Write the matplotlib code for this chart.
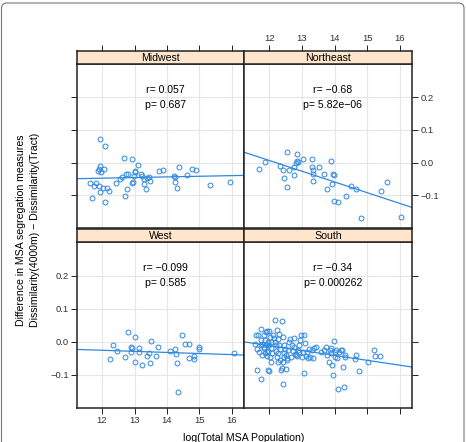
import matplotlib
matplotlib.use("Agg")
import matplotlib.pyplot as plt
from matplotlib.patches import FancyBboxPatch
import numpy as np

plt.rcParams["font.family"] = ["Liberation Sans", "DejaVu Sans"]

# ---------------- data ----------------
regions = ["Midwest", "Northeast", "West", "South"]

midwest_x = [11.93, 12.10, 12.68, 12.91, 13.11, 11.95, 11.90, 12.06, 11.98, 11.89,
             11.64, 11.74, 11.83, 11.91, 11.93, 12.03, 12.14, 12.22, 11.68, 12.09,
             12.71, 12.78, 12.44, 12.55, 12.60, 12.73, 12.80, 12.91, 12.96, 12.99,
             13.02, 13.02, 13.19, 13.22, 13.29, 13.29, 13.34, 13.39, 13.45, 13.47,
             13.76, 13.89, 14.22, 14.24, 14.26, 14.30, 14.38, 14.63, 14.76, 14.90,
             15.31, 15.93]
midwest_y = [0.073, 0.050, 0.015, 0.010, -0.006, -0.010, -0.020, -0.020, -0.030, -0.024,
             -0.061, -0.071, -0.061, -0.071, -0.089, -0.079, -0.077, -0.087, -0.107, -0.121,
             -0.101, -0.081, -0.061, -0.051, -0.044, -0.036, -0.036, -0.061, -0.059, -0.041,
             -0.030, -0.026, -0.036, -0.041, -0.051, -0.064, -0.081, -0.046, -0.043, -0.056,
             -0.026, -0.023, -0.041, -0.058, -0.044, -0.078, -0.014, -0.037, -0.020, -0.023,
             -0.068, -0.058]

northeast_x = [11.69, 11.88, 12.34, 12.43, 12.46, 12.54, 12.54, 12.62, 12.77, 12.77,
               12.82, 12.85, 12.87, 13.05, 13.30, 13.31, 13.33, 13.35, 13.35, 13.51,
               13.67, 13.77, 13.90, 13.93, 13.95, 13.97, 13.97, 14.12, 14.34, 14.51,
               14.66, 14.80, 15.42, 15.60, 16.03, 12.84]
northeast_y = [-0.020, 0.003, -0.010, -0.023, -0.046, 0.033, -0.076, -0.023, -0.038, -0.012,
               0.000, 0.025, 0.002, 0.010, 0.010, -0.013, -0.023, -0.057, -0.034, -0.012,
               -0.034, -0.082, 0.005, -0.066, -0.034, -0.037, -0.118, -0.121, -0.101, -0.071,
               -0.082, -0.169, -0.086, -0.058, -0.165, 0.005]

west_x = [12.24, 12.34, 12.46, 12.72, 12.80, 12.88, 12.89, 12.93, 13.01, 13.03,
          13.13, 13.14, 13.24, 13.39, 13.44, 13.47, 13.51, 13.65, 13.73, 14.09,
          14.25, 14.28, 14.32, 14.35, 14.46, 14.56, 14.68, 14.69, 14.83, 14.84,
          14.99, 15.00, 16.05]
west_y = [-0.053, -0.010, -0.028, -0.046, 0.030, -0.016, -0.032, -0.020, -0.060, 0.016,
          -0.020, -0.032, -0.070, -0.042, -0.035, -0.064, 0.002, -0.042, -0.017, -0.027,
          -0.021, -0.038, -0.064, -0.153, 0.020, -0.005, -0.005, -0.050, -0.043, -0.053,
          -0.017, -0.022, -0.033]

south_x = [11.56, 11.62, 11.64, 11.69, 11.74, 11.74, 11.76, 11.79, 11.83, 11.85,
           11.87, 11.90, 11.93, 11.93, 11.95, 11.97, 12.00, 12.00, 12.03, 12.05,
           12.07, 12.10, 12.15, 12.18, 12.21, 12.24, 12.26, 12.26, 12.28, 12.31,
           12.34, 12.36, 12.38, 12.40, 12.41, 12.42, 12.44, 12.46, 12.49, 12.51,
           12.54, 12.56, 12.59, 12.62, 12.65, 12.67, 12.69, 12.72, 12.75, 12.77,
           12.79, 12.82, 12.85, 12.87, 12.90, 12.92, 12.95, 12.97, 12.99, 13.03,
           13.06, 13.08, 13.10, 13.12, 13.15, 13.18, 13.23, 13.26, 13.30, 13.33,
           13.38, 13.44, 13.59, 13.69, 13.74, 13.77, 13.82, 13.85, 13.88, 13.90,
           13.93, 13.95, 13.98, 14.00, 14.02, 14.05, 14.08, 14.10, 14.15, 14.21,
           14.24, 14.26, 14.28, 14.31, 14.33, 14.62, 14.67, 14.74, 15.03, 15.21,
           15.23, 15.38,
           11.59, 11.66, 11.76, 11.79, 11.83, 11.87, 11.90, 11.93, 11.97, 12.00,
           12.03, 12.07, 12.13, 12.17, 12.21, 12.24, 12.31, 12.34, 12.41, 12.46,
           12.51]
south_y = [-0.005, -0.022, -0.086, -0.032, -0.111, -0.010, 0.040, -0.040, 0.020, -0.020,
           0.005, 0.030, 0.032, -0.030, -0.084, 0.000, 0.034, -0.088, 0.015, -0.020,
           0.000, -0.035, 0.012, 0.065, -0.010, 0.035, 0.010, -0.035, -0.060, 0.025,
           -0.022, -0.086, -0.079, 0.063, 0.015, -0.127, -0.010, -0.035, -0.022, -0.081,
           -0.050, -0.055, -0.025, 0.000, 0.010, -0.045, -0.010, -0.028, 0.013, -0.015,
           -0.038, -0.040, -0.042, -0.025, -0.030, -0.010, 0.005, 0.022, -0.045, -0.030,
           -0.093, 0.020, -0.002, -0.043, -0.030, -0.050, -0.023, -0.045, -0.025, -0.048,
           -0.020, -0.017, -0.032, -0.025, -0.015, -0.040, -0.060, -0.025, -0.035, -0.020,
           -0.070, -0.099, 0.002, -0.030, -0.045, -0.025, -0.048, -0.143, -0.030, -0.026,
           -0.025, -0.075, -0.138, -0.040, -0.045, -0.053, -0.040, -0.087, -0.062, -0.025,
           -0.042, -0.042,
           0.020, 0.022, 0.005, -0.005, -0.015, -0.035, -0.010, -0.042, -0.028, -0.010,
           -0.045, -0.060, 0.020, 0.000, -0.028, -0.045, -0.010, -0.055, -0.060, -0.045,
           -0.040]

# fitted line (value at x=14, slope)
line_at14 = [-0.0436, -0.059, -0.032, -0.041]
line_slope = [0.00195, -0.0329, -0.0033, -0.0148]
r_text = ["r= 0.057", "r= \u22120.68", "r= \u22120.099", "r= \u22120.34"]
p_text = ["p= 0.687", "p= 5.82e\u221206", "p= 0.585", "p= 0.000262"]

xticks = [12, 13, 14, 15, 16]
yticks = [-0.1, 0.0, 0.1, 0.2]
ytick_labels = ["\u22120.1", "0.0", "0.1", "0.2"]

xs = [midwest_x, northeast_x, west_x, south_x]
ys = [midwest_y, northeast_y, west_y, south_y]

# ---------------- layout ----------------
W, H = 466, 442
fig = plt.figure(figsize=(W / 100, H / 100), dpi=100)

XL = (11.23, 16.37)
YL = (-0.2, 0.302)
col_x = [(77, 244), (244, 412)]
row_y = [(51, 64, 228), (229, 242, 408)]  # strip top, strip bottom/plot top, plot bottom

blue = "#2f88e0"
tick_fs = 6.8
txt_fs = 7.6
border_lw = 1.1

def fx(px):
    return px / W

def fy(py):
    return 1 - py / H

# outer rounded frame
frame = FancyBboxPatch((fx(1.5), fy(452)), fx(462.5), fy(3) - fy(452),
                       boxstyle="round,pad=0,rounding_size=0.012",
                       transform=fig.transFigure, fill=False,
                       edgecolor="#777777", lw=0.8)
fig.patches.append(frame)

for i, reg in enumerate(regions):
    r, c = divmod(i, 2)
    x0, x1 = col_x[c]
    st, pt, pb = row_y[r]
    ax = fig.add_axes([fx(x0), fy(pb), fx(x1) - fx(x0), fy(pt) - fy(pb)])
    sax = fig.add_axes([fx(x0), fy(pt), fx(x1) - fx(x0), fy(st) - fy(pt)])

    ax.set_xlim(*XL)
    ax.set_ylim(*YL)
    for v in xticks:
        ax.axvline(v, color="#e6e6e6", lw=0.8, zorder=0)
    for v in yticks:
        ax.axhline(v, color="#e6e6e6", lw=0.8, zorder=0)

    ax.plot(xs[i], ys[i], linestyle="none", marker="o", ms=3.5,
            mfc="none", mec=blue, mew=0.7, zorder=3)
    lx = np.array(XL)
    ax.plot(lx, line_at14[i] + line_slope[i] * (lx - 14), color=blue, lw=0.9, zorder=2)

    ax.text(13.95, 0.222, r_text[i], ha="center", va="center", fontsize=txt_fs)
    ax.text(13.95, 0.178, p_text[i], ha="center", va="center", fontsize=txt_fs)

    for s in ax.spines.values():
        s.set_linewidth(border_lw)
        s.set_color("#222222")

    ax.set_xticks(xticks)
    ax.set_yticks(yticks)
    ax.tick_params(direction="out", length=4, width=0.7, labelsize=tick_fs,
                   colors="#222222", labelcolor="#333333", pad=2)
    ax.tick_params(axis="x", top=False, bottom=(r == 1), labelbottom=(r == 1 and c == 0))
    ax.tick_params(axis="y", left=(c == 0), labelleft=(c == 0 and r == 1),
                   right=(c == 1), labelright=(c == 1 and r == 0))
    ax.set_xticklabels([str(v) for v in xticks])
    ax.set_yticklabels(ytick_labels)

    # strip
    sax.set_facecolor("#ffe5cc")
    sax.set_xlim(*XL)
    sax.set_yticks([])
    for s in sax.spines.values():
        s.set_linewidth(border_lw)
        s.set_color("#222222")
    sax.text(0.5, 0.45, reg, transform=sax.transAxes, ha="center", va="center",
             fontsize=txt_fs)
    sax.set_xticks(xticks)
    sax.set_xticklabels([str(v) for v in xticks])
    sax.tick_params(axis="x", bottom=False, labelbottom=False,
                    top=(r == 0), labeltop=(r == 0 and c == 1),
                    direction="out", length=4, width=0.7, labelsize=tick_fs,
                    colors="#222222", labelcolor="#333333", pad=2)

fig.text(fx(244), fy(438), "log(Total MSA Population)", ha="center", va="center", fontsize=txt_fs)
fig.text(fx(21), fy(230), "Difference in MSA segregation measures", rotation=90,
         ha="center", va="center", fontsize=txt_fs)
fig.text(fx(35), fy(230), "Dissimilarity(4000m) \u2212 Dissimilarity(Tract)", rotation=90,
         ha="center", va="center", fontsize=txt_fs)

fig.savefig("out.png", dpi=100)
